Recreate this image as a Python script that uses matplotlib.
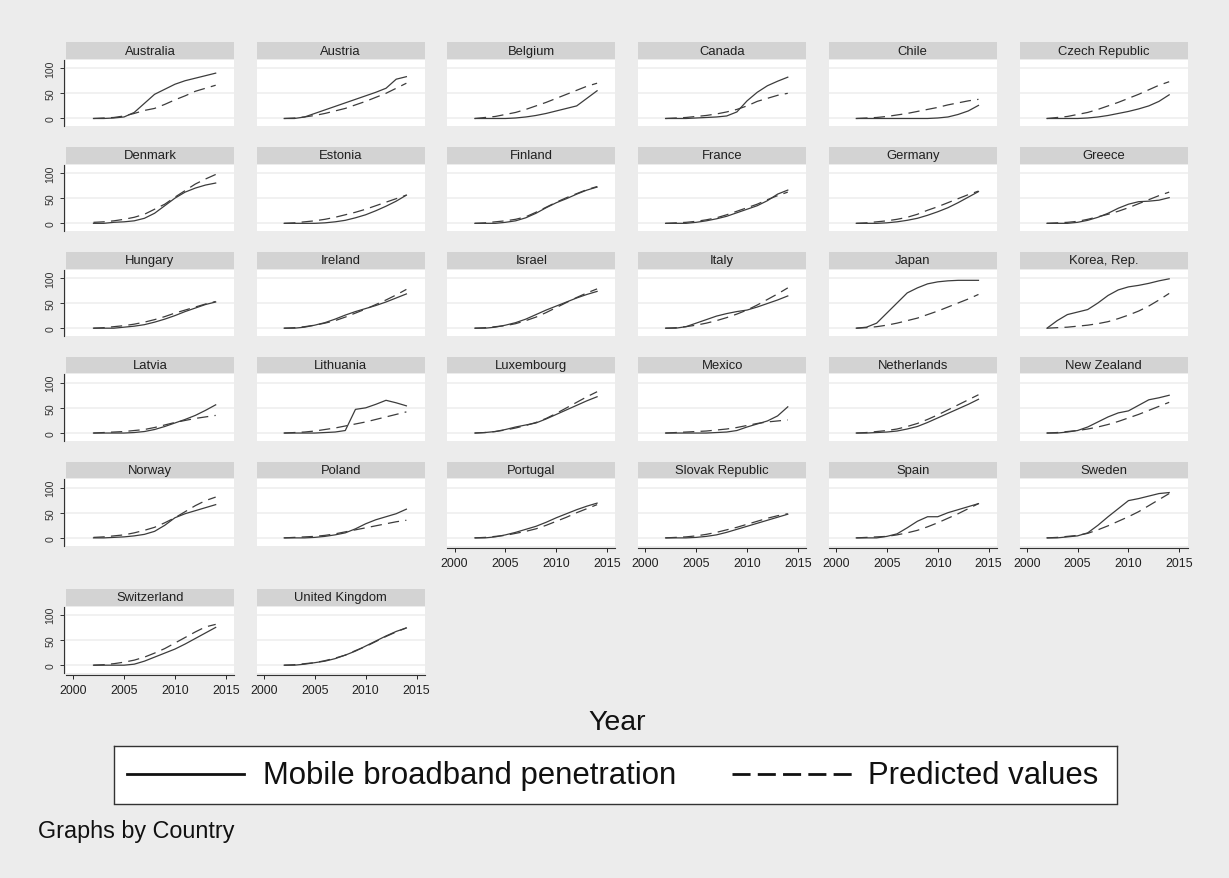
import matplotlib
matplotlib.use("Agg")
import matplotlib.pyplot as plt

plt.rcParams['font.family'] = ['Liberation Sans', 'DejaVu Sans']

# Data
years = [2002, 2003, 2004, 2005, 2006, 2007, 2008, 2009, 2010, 2011, 2012, 2013, 2014]

countries = ['Australia', 'Austria', 'Belgium', 'Canada', 'Chile', 'Czech Republic',
             'Denmark', 'Estonia', 'Finland', 'France', 'Germany', 'Greece',
             'Hungary', 'Ireland', 'Israel', 'Italy', 'Japan', 'Korea, Rep.',
             'Latvia', 'Lithuania', 'Luxembourg', 'Mexico', 'Netherlands', 'New Zealand',
             'Norway', 'Poland', 'Portugal', 'Slovak Republic', 'Spain', 'Sweden',
             'Switzerland', 'United Kingdom']

# Mobile broadband penetration (solid)
actual = [
    [0, 0, 1, 3, 12, 30, 48, 58, 68, 75, 80, 85, 90],      # Australia
    [0, 0, 3, 10, 17, 24, 31, 38, 45, 52, 60, 78, 83],     # Austria
    [0, 0, 0, 0, 1, 3, 6, 10, 15, 20, 25, 40, 55],         # Belgium
    [0, 0, 0, 1, 2, 3, 5, 13, 35, 52, 65, 74, 82],         # Canada
    [0, 0, 0, 0, 0, 0, 0, 0, 1, 3, 8, 15, 26],             # Chile
    [0, 0, 0, 0, 1, 3, 6, 10, 14, 19, 25, 34, 47],         # Czech Republic
    [0, 0, 2, 3, 5, 10, 20, 35, 50, 62, 70, 76, 80],       # Denmark
    [0, 0, 0, 0, 1, 3, 6, 11, 17, 25, 34, 44, 56],         # Estonia
    [0, 0, 0, 2, 5, 11, 20, 31, 41, 49, 58, 66, 72],       # Finland
    [0, 0, 0, 2, 5, 9, 14, 21, 28, 35, 45, 58, 66],        # France
    [0, 0, 0, 1, 3, 6, 10, 16, 23, 31, 41, 52, 63],        # Germany
    [0, 0, 0, 2, 6, 12, 20, 30, 38, 43, 44, 46, 51],       # Greece
    [0, 0, 0, 2, 4, 7, 12, 18, 25, 33, 40, 47, 52],        # Hungary
    [0, 0, 2, 6, 11, 18, 26, 33, 39, 45, 52, 60, 68],      # Ireland
    [0, 0, 2, 6, 11, 18, 27, 36, 44, 52, 60, 67, 73],      # Israel
    [0, 0, 3, 10, 17, 24, 29, 33, 36, 42, 49, 56, 64],     # Italy
    [0, 2, 10, 30, 50, 70, 80, 88, 92, 94, 95, 95, 95],    # Japan
    [0, 15, 27, 32, 37, 50, 65, 76, 82, 85, 89, 94, 98],   # Korea, Rep.
    [0, 0, 0, 0, 1, 3, 7, 13, 20, 27, 35, 45, 56],         # Latvia
    [0, 0, 0, 0, 1, 2, 5, 47, 50, 57, 65, 60, 54],         # Lithuania
    [0, 1, 3, 7, 12, 16, 20, 28, 37, 46, 55, 64, 72],      # Luxembourg
    [0, 0, 0, 0, 0, 1, 2, 5, 12, 18, 24, 34, 52],          # Mexico
    [0, 0, 1, 2, 4, 8, 13, 21, 30, 39, 48, 57, 67],        # Netherlands
    [0, 0, 2, 5, 12, 22, 32, 40, 44, 55, 66, 70, 75],      # New Zealand
    [0, 0, 1, 2, 4, 7, 13, 25, 40, 48, 54, 60, 66],        # Norway
    [0, 0, 0, 1, 3, 6, 10, 18, 28, 36, 42, 48, 57],        # Poland
    [0, 0, 2, 6, 11, 17, 23, 31, 40, 48, 56, 63, 69],      # Portugal
    [0, 0, 0, 1, 3, 6, 11, 17, 23, 29, 35, 41, 47],        # Slovak Republic
    [0, 0, 0, 3, 8, 20, 33, 42, 42, 50, 56, 62, 68],       # Spain
    [0, 0, 2, 4, 10, 25, 42, 58, 74, 78, 83, 88, 90],      # Sweden
    [0, 0, 0, 0, 2, 8, 16, 24, 32, 42, 53, 64, 75],        # Switzerland
    [0, 0, 2, 5, 8, 13, 20, 28, 38, 48, 58, 67, 74],       # United Kingdom
]

# Predicted values (dashed)
predicted = [
    [0, 1, 2, 5, 10, 16, 20, 28, 37, 45, 54, 60, 66],      # Australia
    [0, 1, 3, 6, 10, 15, 20, 27, 34, 42, 50, 60, 70],      # Austria
    [0, 2, 4, 8, 12, 18, 25, 32, 40, 48, 56, 64, 70],      # Belgium
    [0, 1, 2, 4, 6, 9, 13, 18, 25, 34, 40, 46, 50],        # Canada
    [0, 1, 2, 4, 7, 10, 14, 18, 22, 27, 31, 35, 38],       # Chile
    [0, 2, 4, 8, 12, 18, 25, 32, 40, 48, 57, 66, 73],      # Czech Republic
    [2, 3, 5, 8, 12, 18, 28, 38, 52, 65, 78, 88, 97],      # Denmark
    [0, 1, 3, 5, 8, 12, 17, 22, 28, 35, 42, 49, 56],       # Estonia
    [0, 1, 3, 5, 8, 13, 22, 32, 42, 51, 59, 67, 73],       # Finland
    [0, 1, 2, 4, 7, 11, 17, 24, 31, 38, 47, 55, 62],       # France
    [0, 1, 3, 5, 8, 12, 18, 26, 33, 41, 49, 57, 64],       # Germany
    [0, 1, 2, 4, 8, 13, 18, 24, 31, 39, 47, 55, 62],       # Greece
    [0, 1, 3, 5, 8, 12, 17, 23, 30, 36, 42, 48, 53],       # Hungary
    [0, 1, 3, 6, 10, 15, 22, 30, 38, 47, 56, 66, 77],      # Ireland
    [0, 1, 3, 5, 9, 15, 22, 31, 41, 51, 61, 70, 78],       # Israel
    [0, 1, 3, 6, 10, 15, 21, 28, 36, 46, 57, 68, 80],      # Italy
    [0, 1, 3, 6, 10, 15, 20, 27, 34, 42, 50, 58, 67],      # Japan
    [0, 1, 2, 4, 6, 9, 13, 19, 26, 34, 44, 56, 69],        # Korea, Rep.
    [0, 1, 2, 3, 5, 7, 11, 16, 21, 25, 29, 32, 35],        # Latvia
    [0, 1, 2, 4, 7, 10, 14, 18, 22, 27, 32, 37, 42],       # Lithuania
    [0, 1, 3, 6, 10, 15, 21, 29, 39, 50, 61, 72, 82],      # Luxembourg
    [0, 1, 2, 3, 4, 6, 8, 11, 15, 19, 22, 24, 26],         # Mexico
    [0, 1, 3, 5, 8, 13, 19, 27, 36, 46, 56, 66, 76],       # Netherlands
    [0, 1, 3, 5, 8, 12, 17, 23, 30, 37, 45, 53, 61],       # New Zealand
    [1, 2, 4, 6, 10, 15, 21, 30, 40, 52, 64, 74, 81],      # Norway
    [0, 1, 2, 3, 5, 8, 12, 16, 20, 24, 28, 32, 35],        # Poland
    [0, 1, 3, 5, 9, 13, 18, 25, 33, 41, 50, 58, 66],       # Portugal
    [0, 1, 2, 4, 7, 11, 16, 21, 27, 33, 39, 44, 48],       # Slovak Republic
    [0, 1, 2, 3, 6, 10, 15, 22, 30, 39, 48, 58, 68],       # Spain
    [0, 1, 3, 5, 9, 16, 24, 33, 42, 52, 64, 76, 88],       # Sweden
    [0, 1, 3, 6, 10, 16, 24, 33, 44, 55, 66, 76, 81],      # Switzerland
    [0, 1, 3, 5, 9, 14, 20, 29, 37, 47, 57, 66, 74],       # United Kingdom
]

x_ticks = [2000, 2005, 2010, 2015]
y_ticks = [0, 50, 100]

# Colours / layout (pixels of the 1229x879 picture)
BG = '#ECECEC'
STRIP = '#D3D3D3'
LINE = '#3C3C3C'
GRID = '#EFEFEF'
W, H = 1229, 879
NCOL = 6


def px_box(x0, y0, w, h):
    return [x0 / W, 1 - (y0 + h) / H, w / W, h / H]


fig = plt.figure(figsize=(W / 100, H / 100), dpi=100, facecolor=BG)

n = len(countries)
for i, name in enumerate(countries):
    r, c = divmod(i, NCOL)
    strip_top = 43.3 + r * 104.85 if r < 5 else 590
    left = 66 + c * 190.7
    plot_top = strip_top + 17.5

    # title strip
    sax = fig.add_axes(px_box(left, strip_top, 168, 16.5))
    sax.set_facecolor(STRIP)
    sax.set_xticks([])
    sax.set_yticks([])
    for s in sax.spines.values():
        s.set_visible(False)
    sax.text(0.5, 0.5, name, ha='center', va='center', fontsize=9.4,
             color='#202020', transform=sax.transAxes)

    ax = fig.add_axes(px_box(left, plot_top, 168, 66.5))
    ax.set_facecolor('white')
    for yv in y_ticks:
        ax.axhline(yv, color=GRID, lw=1.2, zorder=0)
    ax.plot(years, actual[i], color=LINE, lw=0.9, zorder=3)
    ax.plot(years, predicted[i], color=LINE, lw=0.9, zorder=2,
            linestyle=(0, (9, 5)))
    ax.set_xlim(1999.3, 2015.8)
    ax.set_ylim(-15.5, 116.5)
    for s in ax.spines.values():
        s.set_visible(False)

    # y axis only on first column
    if c == 0:
        ax.spines['left'].set_visible(True)
        ax.spines['left'].set_position(('outward', 1.5))
        ax.spines['left'].set_color('#333333')
        ax.spines['left'].set_linewidth(0.8)
        ax.set_yticks(y_ticks)
        ax.set_yticklabels([str(v) for v in y_ticks], rotation=90, va='center')
        ax.tick_params(axis='y', length=2.8, width=0.7, pad=3.2,
                       labelsize=7.6, colors='#333333')
    else:
        ax.set_yticks([])

    # x axis only on the last panel of each column
    last_row = (n - 1 - c) // NCOL
    if r == last_row:
        ax.spines['bottom'].set_visible(True)
        ax.spines['bottom'].set_position(('outward', 1.3))
        ax.spines['bottom'].set_color('#333333')
        ax.spines['bottom'].set_linewidth(0.8)
        ax.set_xticks(x_ticks)
        ax.tick_params(axis='x', length=2.7, width=0.7, pad=4.2,
                       labelsize=8.9, colors='#222222')
    else:
        ax.set_xticks([])

fig.text(617 / W, 1 - 723 / H, 'Year', ha='center', va='center',
         fontsize=20.5, color='#111111')

# legend box
lax = fig.add_axes(px_box(114, 747, 1003, 57.5))
lax.set_facecolor('white')
lax.set_xlim(114, 1117)
lax.set_ylim(804.5, 747)
lax.set_xticks([])
lax.set_yticks([])
for s in lax.spines.values():
    s.set_color('#333333')
    s.set_linewidth(1.0)
lax.plot([127, 244], [775, 775], color='#111111', lw=2.0)
lax.text(263, 776, 'Mobile broadband penetration', fontsize=22.4,
         va='center', ha='left', color='#111111')
lax.plot([732, 853], [775, 775], color='#111111', lw=2.0,
         linestyle=(0, (6.5, 2.6)))
lax.text(868, 776, 'Predicted values', fontsize=22.4,
         va='center', ha='left', color='#111111')

fig.text(38 / W, 1 - 832 / H, 'Graphs by Country', ha='left', va='center',
         fontsize=16.8, color='#111111')

fig.savefig('out.png', dpi=100, facecolor=BG)
